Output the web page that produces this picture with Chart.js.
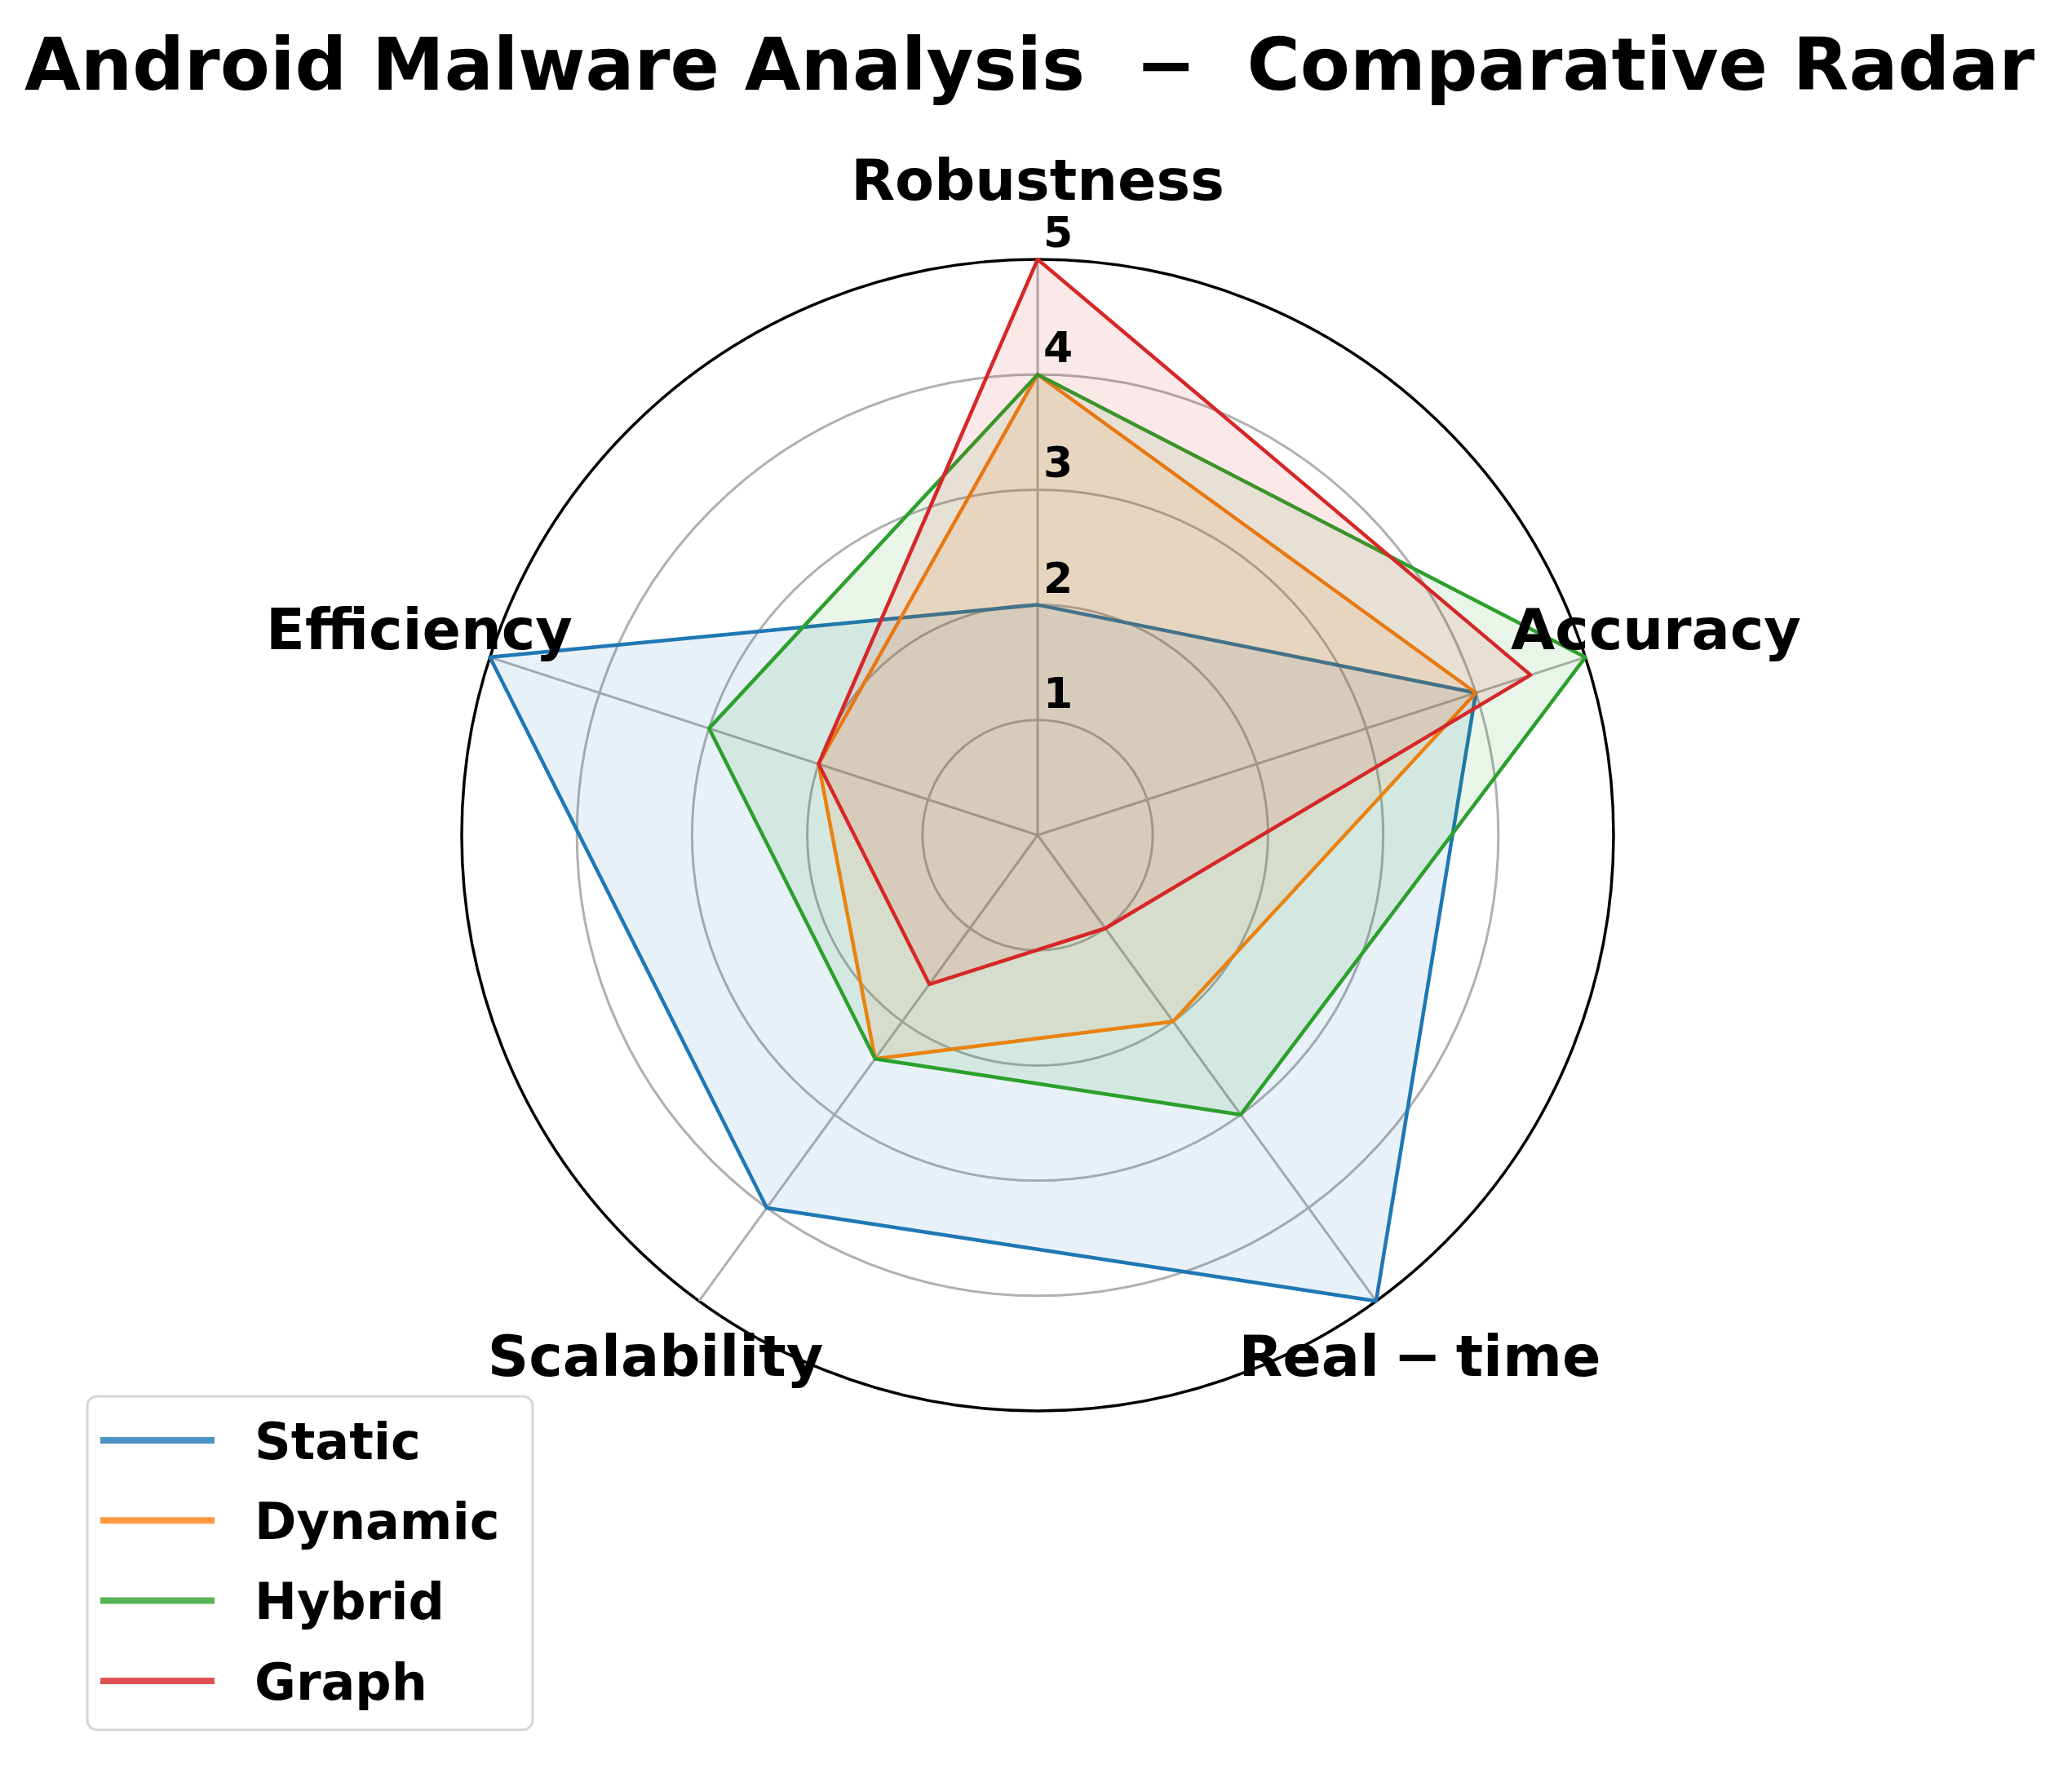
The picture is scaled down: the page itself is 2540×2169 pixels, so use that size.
<!DOCTYPE html>
<html>
<head>
<meta charset="utf-8">
<title>Android Malware Analysis − Comparative Radar</title>
<script src="https://cdn.jsdelivr.net/npm/chart.js@4.4.1/dist/chart.umd.min.js"></script>
<style>
  html, body { margin: 0; padding: 0; background: #fff; overflow: hidden; }
  canvas { display: block; }
</style>
</head>
<body>
<canvas id="radarChart" width="2540" height="2169"></canvas>
<script>
// chart data
let chartTitle = "Android Malware Analysis  \u2212  Comparative Radar";
let categories = ["Robustness", "Accuracy", "Real\u2005\u2212\u2005time", "Scalability", "Efficiency"];
let tickValues = [1, 2, 3, 4, 5];
let seriesNames = ["Static", "Dynamic", "Hybrid", "Graph"];
let staticScores = [2, 4, 5, 4, 5];
let dynamicScores = [4, 4, 2, 2.4, 2];
let hybridScores = [4, 5, 3, 2.4, 3];
let graphScores = [5, 4.5, 1, 1.6, 2];

// tab10 colours
let seriesColors = ["31, 119, 180", "255, 127, 14", "44, 160, 44", "214, 39, 40"];

Chart.defaults.font.family = "'DejaVu Sans'";

let allScores = [staticScores, dynamicScores, hybridScores, graphScores];
let datasets = seriesNames.map((name, i) => ({
  label: name,
  data: allScores[i],
  borderColor: "rgb(" + seriesColors[i] + ")",
  backgroundColor: "rgba(" + seriesColors[i] + ", 0.1)",
  borderWidth: 4.5,
  borderJoinStyle: "round",
  fill: true,
  pointRadius: 0,
  tension: 0,
  order: seriesNames.length - i, // last series on top
}));

// title, axis names, tick numbers and legend drawn like matplotlib does
let radarText = {
  id: "radarText",
  afterDraw(chart) {
    let ctx = chart.ctx;
    let r = chart.scales.r;
    ctx.save();
    ctx.fillStyle = "#000";
    ctx.textAlign = "center";
    ctx.textBaseline = "alphabetic";

    ctx.font = "bold 89px 'DejaVu Sans'";
    ctx.fillText(chartTitle, r.xCenter - 10, 110);

    // category labels, centred just outside the outer ring
    ctx.font = "bold 70px 'DejaVu Sans'";
    categories.forEach((label, i) => {
      let p = r.getPointPosition(i, r.drawingArea + 91);
      ctx.fillText(label, p.x, p.y + 0.264 * 70);
    });

    // radial tick numbers
    ctx.font = "bold 52px 'DejaVu Sans'";
    tickValues.forEach((v) => {
      let d = r.getDistanceFromCenterForValue(v);
      ctx.fillText(String(v), r.xCenter + 25, r.yCenter - d - 34 + 0.365 * 52);
    });

    // legend box, lower left
    let lx = 107, ly = 1712, lw = 546, lh = 409, rad = 12;
    ctx.beginPath();
    ctx.moveTo(lx + rad, ly);
    ctx.arcTo(lx + lw, ly, lx + lw, ly + lh, rad);
    ctx.arcTo(lx + lw, ly + lh, lx, ly + lh, rad);
    ctx.arcTo(lx, ly + lh, lx, ly, rad);
    ctx.arcTo(lx, ly, lx + lw, ly, rad);
    ctx.closePath();
    ctx.fillStyle = "rgba(255, 255, 255, 0.8)";
    ctx.fill();
    ctx.lineWidth = 3;
    ctx.strokeStyle = "#d6d6d6";
    ctx.stroke();

    ctx.font = "bold 62px 'DejaVu Sans'";
    ctx.textAlign = "left";
    seriesNames.forEach((name, i) => {
      let y = 1766 + i * 98.3;
      ctx.beginPath();
      ctx.moveTo(123, y);
      ctx.lineTo(263, y);
      ctx.lineWidth = 8;
      ctx.lineCap = "butt";
      ctx.strokeStyle = "rgba(" + seriesColors[i] + ", 0.8)";
      ctx.stroke();
      ctx.fillStyle = "#000";
      ctx.fillText(name, 312, y + 0.365 * 62);
    });
    ctx.restore();
  },
};

let ctx = document.getElementById("radarChart").getContext("2d");
let myChart = new Chart(ctx, {
  type: "radar",
  data: {
    labels: categories,
    datasets: datasets,
  },
  options: {
    responsive: false,
    animation: false,
    events: [],
    layout: {
      padding: { left: 566, top: 318, right: 562, bottom: 439 },
    },
    plugins: {
      legend: { display: false },
      title: { display: false },
      tooltip: { enabled: false },
    },
    scales: {
      r: {
        min: 0,
        max: 5,
        ticks: { display: false, stepSize: 1 },
        pointLabels: { display: false },
        grid: {
          circular: true,
          color: (c) => (c.tick && c.tick.value === 5 ? "#000000" : "#b0b0b0"),
          lineWidth: (c) => (c.tick && c.tick.value === 5 ? 3.5 : 3),
        },
        angleLines: { color: "#b0b0b0", lineWidth: 3 },
      },
    },
  },
  plugins: [radarText],
});
</script>
</body>
</html>
